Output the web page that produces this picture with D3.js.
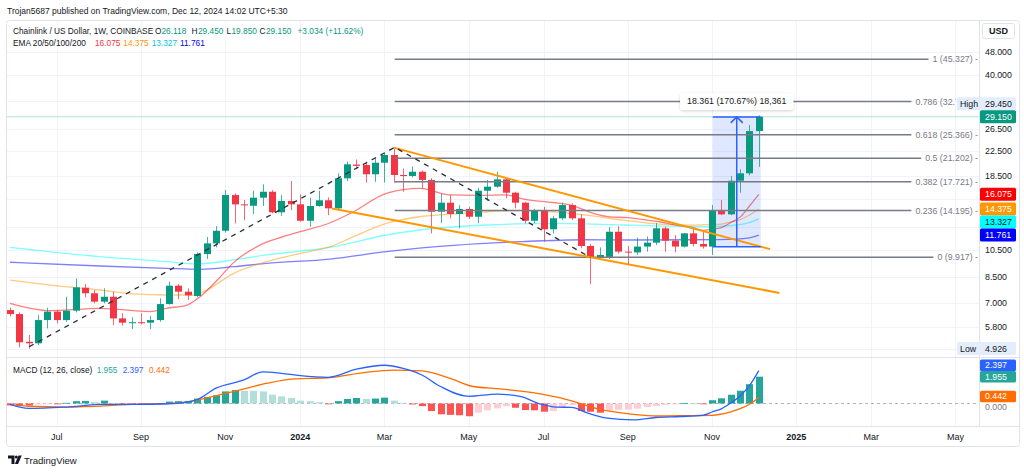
<!DOCTYPE html>
<html><head><meta charset="utf-8">
<script src="https://cdn.jsdelivr.net/npm/d3@7"></script>
<style>
html,body{margin:0;padding:0;background:#fff;}
svg{display:block;font-family:"Liberation Sans",Arial,sans-serif;}
</style></head><body>
<svg id="c" width="1024" height="472"></svg>
<script>
// ---------------- DATA ----------------
const firstWeek = "2023-05-29"; // Monday of first weekly candle
const opens = [6.62,6.42,5.19,5.13,6.13,6.54,6.13,6.59,7.86,7.53, 7.06,7.33,6.21,5.99,6.03,6.01,6.13,6.93,7.98,7.62,
  7.37,10.17,11.04,12.16,15.99,14.89,14.73,15.67,16.40,14.01, 15.28,14.89,13.13,14.70,15.36,14.44,18.18,20.20,20.13,18.75,
  20.49,21.74,18.65,18.51,19.12,17.95,14.07,15.08,13.83,14.37, 13.54,16.53,17.05,18.04,16.28,15.08,13.13,14.18,12.30,13.38,
  14.81,13.38,10.82,9.92,9.95,12.07,10.36,10.30,10.77,11.10, 12.39,11.27,10.77,11.92,10.99,10.77,14.18,13.79,17.85,18.89, 26.118];
const highs = [6.74,6.50,5.47,6.37,6.74,6.62,7.33,8.44,8.08,7.72, 7.82,7.62,6.46,6.26,6.46,6.33,7.24,8.23,8.08,7.82,
  10.30,11.60,12.60,16.62,16.20,15.39,16.53,17.36,16.60,15.99, 17.81,16.08,15.67,16.53,15.70,18.89,20.65,21.00,20.50,21.19,
  22.10,22.88,19.60,19.90,19.30,18.20,16.20,15.99,14.80,14.62, 16.90,17.95,19.12,18.20,16.40,15.20,14.40,14.60,13.60,15.10,
  15.00,13.80,11.00,10.70,12.50,12.60,10.82,11.53,11.65,12.90, 12.55,11.75,11.95,12.39,12.10,14.81,15.39,18.52,19.48,27.36, 29.45];
const lows = [6.30,4.97,4.926,5.05,5.75,5.98,6.05,6.50,7.30,6.97, 6.97,5.90,5.87,5.72,5.93,5.72,6.05,6.90,7.19,7.15,
  7.30,9.80,10.70,12.00,12.87,13.20,13.83,14.70,13.90,13.62, 14.25,13.03,12.54,14.62,13.70,14.20,17.80,19.48,17.58,17.70,
  17.60,17.58,16.40,18.30,16.80,11.92,12.90,13.38,12.39,13.30, 12.87,15.30,16.90,15.60,14.44,12.87,12.87,11.18,11.90,13.20,
  13.20,10.63,8.08,9.80,9.80,10.20,9.35,10.10,10.36,10.90, 10.36,10.30,10.70,10.77,10.60,10.10,13.70,13.70,16.28,18.60, 19.85];
const closes = [6.42,5.17,5.13,6.13,6.54,6.13,6.59,7.88,7.53,7.06, 7.33,6.21,6.01,6.03,5.99,6.13,6.93,7.98,7.62,7.41,
  10.17,11.04,12.16,15.99,14.89,14.78,15.67,16.40,14.01,15.28, 14.89,13.13,14.70,15.36,14.44,18.18,20.24,20.00,18.75,20.49,
  21.74,18.65,18.50,19.12,17.95,14.07,15.08,13.83,14.37,13.54, 16.53,17.05,18.04,16.28,15.08,13.13,14.18,12.30,13.38,14.81,
  13.38,10.82,9.92,10.10,12.07,10.36,10.30,10.77,11.10,12.39, 11.27,10.77,11.92,10.99,10.77,14.18,13.79,17.85,18.89,26.116, 29.15];

// EMA readings: [week index, value]
const ema20 = [[0,6.97],[4.3,6.59],[9.6,6.71],[15,6.54],[16.7,6.71],[18.9,6.88],[20.3,7.33],[22.1,8.3],[23.8,9.47],[27.1,11.04],
  [29.2,11.62],[31,12.07],[34.2,12.93],[36.7,14.07],[40.2,16.2],[43.8,16.84],[47,16.0],[50,15.95],[53,16.0],[55,15.48],[58,15.1],
  [60,14.78],[62.3,13.9],[64.1,13.53],[66,13.45],[68,13.2],[69.4,13.03],[71.2,12.7],[73,12.45],[74,12.2],[75,12.3],[76,12.45],
  [77,12.95],[78,13.5],[79,14.7],[80,16.075]];
const ema50 = [[0,8.33],[4.3,8.02],[9.6,7.72],[13.2,7.49],[16.7,7.43],[19.6,7.43],[21,7.72],[23.9,8.77],[27.4,9.59],[31,10.23],
  [34.2,10.76],[36.7,11.62],[40.2,12.87],[43.8,13.54],[47.4,13.83],[50.9,14.07],[54.5,14.18],[58,14.07],[61.6,13.7],[65.5,13.2],
  [69.4,12.8],[73,12.7],[75,12.76],[76,12.8],[77,13.0],[78,13.23],[79,13.73],[80,14.375]];
const ema100 = [[0,10.71],[9.6,9.97],[16.7,9.59],[19.9,9.42],[23.9,9.72],[27.4,10.10],[31,10.41],[34.2,10.71],[40.2,11.77],
  [43.8,12.23],[50.9,12.71],[58,12.87],[65.5,12.71],[70,12.6],[74.8,12.54],[77.6,12.71],[79,12.95],[80,13.327]];
const ema200 = [[0,9.55],[9.6,9.28],[16.7,9.12],[20.3,9.05],[23.9,9.23],[27.4,9.47],[34.2,9.79],[40.2,10.36],[47.4,10.87],
  [54.5,11.18],[61.6,11.35],[66,11.33],[73,11.35],[77.6,11.41],[79,11.52],[80,11.761]];

// MACD (12, 26, close)
const macdLine = [[0,-0.07],[2,-0.36],[6,-0.26],[10,-0.07],[13,-0.07],[17,-0.02],[20,0.29],[22,1.12],[25,1.72],[27,2.31],
  [29,2.2],[31,2.03],[34,1.91],[37,2.5],[40,2.79],[42,2.56],[44,2.08],[46,1.24],[49,0.52],[52,0.69],[54.5,0.52],[56.6,-0.02],
  [58.4,-0.26],[60,-0.29],[61.6,-0.67],[63.8,-1.07],[66.6,-1.2],[69,-1.02],[71.6,-0.95],[74,-0.86],[75,-0.62],[76,-0.39],
  [77,0.03],[78,0.55],[79,1.3],[80,2.397]];
const signalLine = [[0,-0.07],[2,-0.2],[6,-0.26],[13,-0.07],[18,0.05],[21.3,0.45],[24.6,1.0],[27.5,1.48],[30.3,1.79],[34,1.88],
  [38,2.27],[41,2.43],[44,2.38],[47,1.84],[49.5,1.24],[52.4,1.07],[56,0.77],[59.5,0.29],[63,-0.43],[66.6,-0.79],[69,-0.91],
  [73,-0.88],[75,-0.865],[76,-0.77],[77,-0.61],[78,-0.38],[79,-0.05],[80,0.442]];
const histogram = [-0.14,-0.14,-0.14,-0.07,-0.05,-0.05,0.05,0.17,0.19,0.12, 0.21,0.01,-0.07,-0.07,-0.09,-0.07,0.03,0.14,0.17,0.19,
  0.36,0.48,0.60,0.88,0.98,0.93,0.93,0.88,0.64,0.52, 0.40,0.21,0.17,0.10,-0.05,0.17,0.33,0.40,0.33,0.36,
  0.43,0.21,0.05,-0.07,-0.19,-0.55,-0.79,-0.83,-0.86,-0.93, -0.67,-0.50,-0.36,-0.19,-0.31,-0.48,-0.50,-0.60,-0.55,-0.26,
  -0.12,-0.55,-0.60,-0.67,-0.50,-0.46,-0.44,-0.38,-0.26,-0.19, -0.10,-0.06,0.02,0.02,-0.01,0.24,0.38,0.64,0.93,1.41, 1.955];

// Price-axis ticks (labelled ones, and grid-only ones hidden under price boxes) and time-axis ticks
const priceTicks = [48,40,26.5,22.5,18.5,10.5,8.5,7,5.8];
const hiddenPriceTicks = [33,15.5,12.5,4.9];
const timeTickDates = ["2023-07-03","2023-09-04","2023-11-06","2024-01-01","2024-03-04","2024-05-06","2024-07-01","2024-09-02","2024-11-04","2025-01-06","2025-03-03","2025-05-05"];
const timeTickLabels = ["Jul","Sep","Nov","2024","Mar","May","Jul","Sep","Nov","2025","Mar","May"];

// Drawings
const fibLevels = [1,0.786,0.618,0.5,0.382,0.236,0];
const fibPrices = [45.327,32.740,25.366,21.202,17.721,14.195,9.917];
const trendPoints = [[2.06,5.0],[41.1,23.06],[62,9.917]];
const wedgeUpper = [[41.0,23.0],[81.2,10.56]];
const wedgeLower = [[34.4,14.43],[82.2,7.55]];
const measureRange = {from:75.08, to:80.2, low:10.758, high:29.119, text:"18.361 (170.67%) 18,361"};
const emaLast = [16.075,14.375,13.327,11.761];
const lastOHLC = {o:26.118,h:29.450,l:19.850,c:29.150,chg:"+3.034 (+11.62%)"};
const rangeHigh = 29.450, rangeLow = 4.926;

// ---------------- SCALES ----------------
const svg = d3.select("#c");
const paneL=7, paneR=979, mainTop=21, mainBot=357, macdBot=426, frameBot=447;
const parse = d3.utcParse("%Y-%m-%d");
const t0 = parse(firstWeek);
const wDate = i => new Date(t0.getTime()+i*7*864e5);
const x = d3.scaleUtc().domain([wDate(0), wDate(101)]).range([10, 955.4]);
const xi = i => x(wDate(i));
const y = d3.scaleLog().domain([48,5.8]).range([51.7,327.3]);
const ym = d3.scaleLinear().domain([0,1.955]).range([403.5,376.7]);
const n = closes.length;
const lastY = y(lastOHLC.c);
const highBoxY = lastY-13;

const defs = svg.append("defs");
defs.append("clipPath").attr("id","cm").append("rect").attr("x",paneL).attr("y",mainTop).attr("width",paneR-paneL).attr("height",mainBot-mainTop);
defs.append("clipPath").attr("id","cd").append("rect").attr("x",paneL).attr("y",mainBot).attr("width",paneR-paneL).attr("height",macdBot-mainBot);
defs.append("clipPath").attr("id","chigh").append("rect").attr("x",paneL).attr("y",mainTop).attr("width",956-paneL).attr("height",mainBot-mainTop);
const flt = defs.append("filter").attr("id","sh").attr("x","-20%").attr("y","-40%").attr("width","140%").attr("height","180%");
flt.append("feDropShadow").attr("dx",0).attr("dy",1).attr("stdDeviation",1.5).attr("flood-color","#000").attr("flood-opacity",0.18);

// header
svg.append("text").attr("x",7).attr("y",14).attr("font-size",8.5).attr("fill","#131722")
  .text("Trojan5687 published on TradingView.com, Dec 12, 2024 14:02 UTC+5:30");

// frame
svg.append("rect").attr("x",paneL-0.5).attr("y",mainTop-0.5).attr("width",1020-paneL).attr("height",frameBot-mainTop)
  .attr("rx",3).attr("fill","none").attr("stroke","#e0e3eb");

// grids
const tDates = timeTickDates.map(parse);
const grid = svg.append("g");
grid.selectAll("line.v").data(tDates).join("line").attr("class","v")
  .attr("x1",d=>Math.round(x(d))+0.5).attr("x2",d=>Math.round(x(d))+0.5).attr("y1",mainTop).attr("y2",macdBot).attr("stroke","#f0f3fa");
grid.selectAll("line.h").data(priceTicks.concat(hiddenPriceTicks)).join("line").attr("class","h")
  .attr("x1",paneL).attr("x2",paneR).attr("y1",d=>Math.round(y(d))+0.5).attr("y2",d=>Math.round(y(d))+0.5).attr("stroke","#f0f3fa");

// separators
svg.append("line").attr("x1",paneL).attr("x2",1020).attr("y1",mainBot+0.5).attr("y2",mainBot+0.5).attr("stroke","#e0e3eb");
svg.append("line").attr("x1",paneL).attr("x2",1020).attr("y1",macdBot+0.5).attr("y2",macdBot+0.5).attr("stroke","#e0e3eb");
svg.append("line").attr("x1",paneR+0.5).attr("x2",paneR+0.5).attr("y1",mainTop).attr("y2",macdBot).attr("stroke","#e0e3eb");

// main pane content
const gm = svg.append("g").attr("clip-path","url(#cm)");
gm.append("line").attr("x1",paneL).attr("x2",paneR).attr("y1",lastY).attr("y2",lastY)
  .attr("stroke","#089981").attr("stroke-opacity",0.3).attr("stroke-width",1);

// EMAs
const lineP = d3.line().x(d=>xi(d[0])).y(d=>y(d[1])).curve(d3.curveMonotoneX);
[[ema200,"#0000ff"],[ema100,"#00ffff"],[ema50,"#ff9800"],[ema20,"#ff0000"]].forEach(([arr,c])=>{
  gm.append("path").attr("d",lineP(arr)).attr("fill","none").attr("stroke",c).attr("stroke-opacity",0.5).attr("stroke-width",1.3);
});

// measure box
const mx0 = xi(measureRange.from), mx1 = xi(measureRange.to), my0 = y(measureRange.high), my1 = y(measureRange.low);
gm.append("rect").attr("x",mx0).attr("y",my0).attr("width",mx1-mx0).attr("height",my1-my0).attr("fill","#2962ff").attr("fill-opacity",0.15);

// candles
const up = i => closes[i] >= opens[i];
const cg = gm.append("g");
cg.selectAll("line").data(d3.range(n)).join("line")
  .attr("x1",i=>Math.round(xi(i))+0.5).attr("x2",i=>Math.round(xi(i))+0.5)
  .attr("y1",i=>y(highs[i])).attr("y2",i=>y(lows[i]))
  .attr("stroke",i=>up(i)?"#089981":"#f23645").attr("stroke-opacity",0.75);
cg.selectAll("rect").data(d3.range(n)).join("rect")
  .attr("x",i=>Math.round(xi(i))-3).attr("width",7)
  .attr("y",i=>y(Math.max(opens[i],closes[i])))
  .attr("height",i=>Math.max(1,Math.abs(y(opens[i])-y(closes[i]))))
  .attr("fill",i=>up(i)?"#089981":"#f23645");

// fib lines + labels
const fibG = gm.append("g");
fibLevels.forEach((lv,k)=>{
  const yy = y(fibPrices[k]);
  const t = fibG.append("text").attr("x",978).attr("y",yy+3).attr("text-anchor","end")
    .attr("font-size",8.8).attr("fill","#787b86").text(`${lv} (${fibPrices[k].toFixed(3)}) -`);
  if (Math.abs(yy-highBoxY) < 10) t.attr("clip-path","url(#chigh)");
  const tl = t.node().getComputedTextLength();
  fibG.insert("line","text").attr("x1",xi(trendPoints[1][0])).attr("x2",978-tl-4).attr("y1",yy).attr("y2",yy)
    .attr("stroke","#787b86").attr("stroke-width",1.5);
});

// wedge
const lineS = d3.line().x(d=>xi(d[0])).y(d=>y(d[1]));
[wedgeUpper,wedgeLower].forEach(w=>gm.append("path").attr("d",lineS(w)).attr("fill","none").attr("stroke","#ff9800").attr("stroke-width",2));
gm.append("path").attr("d",lineS(trendPoints)).attr("fill","none").attr("stroke","#2a2e39").attr("stroke-width",1.3).attr("stroke-dasharray","5,5");

// measure lines & arrow
const mxm = (mx0+mx1)/2;
[my0,my1].forEach(yy=>gm.append("line").attr("x1",mx0).attr("x2",mx1).attr("y1",yy).attr("y2",yy).attr("stroke","#2962ff").attr("stroke-width",1.5));
gm.append("line").attr("x1",mxm).attr("x2",mxm).attr("y1",my1).attr("y2",my0).attr("stroke","#2962ff").attr("stroke-width",1.5);
gm.append("path").attr("d",`M${mxm-6},${my0+6}L${mxm},${my0}L${mxm+6},${my0+6}`).attr("fill","none").attr("stroke","#2962ff").attr("stroke-width",1.5);
const lg = gm.append("g");
const lt = lg.append("text").attr("x",mxm).attr("y",my0-13).attr("text-anchor","middle").attr("font-size",8.8).attr("fill","#131722").text(measureRange.text);
const lw = lt.node().getComputedTextLength()+14;
lg.insert("rect","text").attr("x",mxm-lw/2).attr("y",my0-24).attr("width",lw).attr("height",17).attr("rx",3)
  .attr("fill","#fff").attr("filter","url(#sh)");

// ---------------- MACD pane ----------------
const gd = svg.append("g").attr("clip-path","url(#cd)");
gd.append("line").attr("x1",paneL).attr("x2",1020).attr("y1",ym(0)).attr("y2",ym(0)).attr("stroke","#b2b5be").attr("stroke-dasharray","3,3");
const hColor = i => {
  const h = histogram[i], p = i>0?histogram[i-1]:h;
  return h>=0 ? (p<h?"#26a69a":"#b2dfdb") : (p<h?"#ffcdd2":"#ff5252");
};
gd.selectAll("rect").data(d3.range(n)).join("rect")
  .attr("x",i=>Math.round(xi(i))-3).attr("width",7)
  .attr("y",i=>Math.min(ym(0),ym(histogram[i]))).attr("height",i=>Math.max(0.8,Math.abs(ym(histogram[i])-ym(0))))
  .attr("fill",hColor);
const lineM = d3.line().x(d=>xi(d[0])).y(d=>ym(d[1])).curve(d3.curveMonotoneX);
gd.append("path").attr("d",lineM(signalLine)).attr("fill","none").attr("stroke","#ff6d00").attr("stroke-width",1.3);
gd.append("path").attr("d",lineM(macdLine)).attr("fill","none").attr("stroke","#2962ff").attr("stroke-width",1.3);

// ---------------- Axes ----------------
const fmt = d3.format(".3f");
const ax = svg.append("g").attr("font-size",8.8).attr("fill","#131722");
ax.selectAll("text.pt").data(priceTicks).join("text").attr("class","pt")
  .attr("x",985).attr("y",d=>y(d)+3).text(d=>fmt(d));
ax.append("text").attr("x",985).attr("y",ym(0)+6.5).attr("fill","#787b86").text("0.000");
svg.append("g").selectAll("text").data(tDates).join("text")
  .attr("x",d=>x(d)).attr("y",440).attr("text-anchor","middle").attr("font-size",9)
  .attr("font-weight",(d,i)=>/^\d+$/.test(timeTickLabels[i])?"bold":"normal").attr("fill","#131722")
  .text((d,i)=>timeTickLabels[i]);

// price label boxes
function box(cy, txt, bg, fg, x0=980, w=36, h=13, prefix=null){
  const g = svg.append("g");
  g.append("rect").attr("x",x0).attr("y",cy-h/2).attr("width",w).attr("height",h).attr("rx",1.5).attr("fill",bg);
  if(prefix) g.append("text").attr("x",x0+3).attr("y",cy+3).attr("font-size",8.8).attr("fill",fg).text(prefix);
  g.append("text").attr("x",985).attr("y",cy+3).attr("font-size",8.8).attr("fill",fg).text(txt);
}
const emaCols = [["#ff0000","#fff"],["#ff9800","#fff"],["#00ffff","#131722"],["#0000ff","#fff"]];
let prev = -1e9;
emaLast.forEach((v,k)=>{ let cy = y(v); if(cy-prev<13) cy = prev+13; prev = cy; box(cy, fmt(v), emaCols[k][0], emaCols[k][1]); });
box(highBoxY, fmt(rangeHigh), "#e3edfd", "#131722", 957, 59, 13, "High");
box(lastY, fmt(lastOHLC.c), "#089981", "#fff");
box(y(rangeLow), fmt(rangeLow), "#e3edfd", "#131722", 957, 59, 13, "Low");
const hY = ym(histogram[n-1]);
box(hY-11.5, fmt(macdLine[macdLine.length-1][1]), "#2962ff", "#fff", 980, 36, 11.5);
box(hY, fmt(histogram[n-1]), "#26a69a", "#fff", 980, 36, 11.5);
box(ym(signalLine[signalLine.length-1][1])-1, fmt(signalLine[signalLine.length-1][1]), "#ff6d00", "#fff", 980, 36, 11.5);

// USD
svg.append("rect").attr("x",982.5).attr("y",23.5).attr("width",32).attr("height",15).attr("rx",2).attr("fill","#fff").attr("stroke","#e0e3eb");
svg.append("text").attr("x",998.5).attr("y",34).attr("text-anchor","middle").attr("font-size",9).attr("font-weight","bold").attr("fill","#131722").text("USD");

// ---------------- Legends ----------------
const green = "#089981";
const LF = 8.3;
const L1 = svg.append("text").attr("y",34).attr("font-size",LF).attr("fill","#131722");
[["Chainlink / US Dollar, 1W, COINBASE",13,"#131722"],["O",155,"#131722"],[lastOHLC.o.toFixed(3),161.5,green],
 ["H",191.5,"#131722"],[lastOHLC.h.toFixed(3),198,green],["L",226.5,"#131722"],[lastOHLC.l.toFixed(3),231.5,green],
 ["C",259.5,"#131722"],[lastOHLC.c.toFixed(3),266,green],[lastOHLC.chg,297.5,green]]
 .forEach(([t,xx,c])=>L1.append("tspan").attr("x",xx).attr("fill",c).text(t));
const L2 = svg.append("text").attr("y",46).attr("font-size",LF).attr("fill","#131722");
[["EMA 20/50/100/200",13,"#131722"],[fmt(emaLast[0]),95,"#f23645"],[fmt(emaLast[1]),123.3,"#ff9800"],
 [fmt(emaLast[2]),151.7,"#00c8e0"],[fmt(emaLast[3]),180,"#0000ff"]]
 .forEach(([t,xx,c])=>L2.append("tspan").attr("x",xx).attr("fill",c).text(t));
const L3 = svg.append("text").attr("y",372.5).attr("font-size",LF).attr("fill","#131722");
[["MACD (12, 26, close)",13,"#131722"],[fmt(histogram[n-1]),96.7,"#26a69a"],[fmt(macdLine[macdLine.length-1][1]),122.7,"#2962ff"],
 [fmt(signalLine[signalLine.length-1][1]),149,"#ff6d00"]]
 .forEach(([t,xx,c])=>L3.append("tspan").attr("x",xx).attr("fill",c).text(t));

// footer logo
const fl = svg.append("g").attr("fill","#131722");
fl.append("path").attr("d","M8,455.5h6.5v8.5h-3v-5.5h-3.5z");
fl.append("circle").attr("cx",16.3).attr("cy",457).attr("r",1.5);
fl.append("path").attr("d","M18.5,455.5h3.2l-3.6,8.5h-3.2z");
svg.append("text").attr("x",24).attr("y",463.5).attr("font-size",9.6).attr("fill","#131722").text("TradingView");
</script>
</body></html>
